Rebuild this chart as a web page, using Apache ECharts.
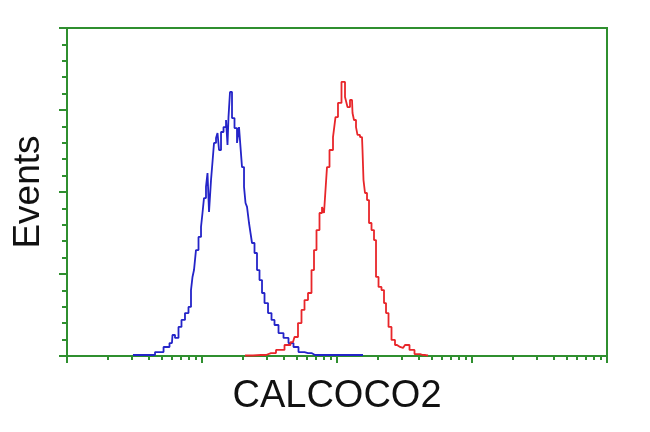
<!DOCTYPE html>
<html>
<head>
<meta charset="utf-8">
<script src="https://cdn.jsdelivr.net/npm/echarts@6/dist/echarts.min.js"></script>
<style>
html,body{margin:0;padding:0;background:#fff;}
#chart{width:650px;height:432px;}
</style>
</head>
<body>
<div id="chart"></div>
<script>
// Fluorescence intensity (log scale) and event counts
const xTitle = "CALCOCO2";
const yTitle = "Events";

const controlX = [3.08, 4.12, 4.89, 5.51, 5.99, 6.10, 6.53, 6.87, 7.23, 7.74, 8.15, 8.43, 8.58, 8.87, 9.18, 9.67, 10.0, 10.17, 10.52, 10.89, 11.08, 11.47, 11.86, 12.06, 12.49, 12.92, 13.14, 13.60, 14.07, 14.81, 15.32, 15.58, 15.85, 16.40, 16.97, 17.86, 18.48, 19.12, 19.45, 20.13, 20.83, 21.19, 21.92, 22.68, 23.07, 23.87, 25.12, 25.99, 27.36, 28.31, 29.80, 31.90, 33.57, 35.34, 38.48, 41.90, 45.63, 49.69, 54.12, 60.99, 68.71, 88.73, 114.6, 155.8];
const controlY = [0.6, 0.6, 2.4, 5.5, 7.9, 12.8, 11.0, 17.7, 22.0, 26.2, 29.9, 40.2, 48.2, 52.4, 64.6, 72.6, 78.7, 87.2, 96.3, 103.1, 111.6, 87.8, 107.3, 118.3, 129.9, 132.9, 136.0, 125.6, 136.6, 139.6, 143.9, 128.7, 145.7, 161.0, 145.1, 139.0, 129.9, 139.6, 127.4, 115.2, 103.1, 93.3, 90.9, 81.1, 75.0, 68.9, 62.8, 52.4, 46.3, 38.4, 32.3, 26.2, 22.0, 18.9, 14.0, 11.0, 7.9, 5.5, 2.4, 1.8, 0.6, 0.6, 0.6, 0.6];

const stainedX = [20.83, 27.36, 32.44, 38.48, 43.36, 47.22, 49.69, 53.19, 55.99, 58.94, 63.10, 66.41, 68.71, 72.32, 76.12, 78.76, 81.49, 82.89, 85.77, 90.29, 96.65, 98.31, 105.2, 110.8, 118.6, 120.6, 129.2, 131.4, 135.9, 140.7, 143.0, 153.2, 155.8, 158.5, 164.0, 169.7, 175.6, 184.8, 191.2, 197.9, 208.3, 219.1, 226.8, 234.7, 247.0, 259.9, 278.3, 292.9, 308.3, 330.0, 359.4, 391.4, 433.5, 472.2];
const stainedY = [0.3, 0.6, 1.8, 3.7, 6.7, 8.5, 11.6, 20.1, 28.1, 34.1, 38.4, 52.4, 64.6, 76.8, 87.2, 90.9, 87.2, 101.2, 115.2, 125.6, 133.5, 145.7, 154.3, 167.1, 157.9, 151.8, 156.1, 148.2, 143.9, 139.6, 134.8, 133.5, 125.6, 107.3, 99.4, 95.1, 81.1, 76.8, 70.7, 48.2, 42.1, 40.2, 32.3, 26.2, 17.7, 9.8, 6.7, 5.5, 4.9, 6.7, 3.7, 1.2, 0.6, 0.3];

const xMajorTicks = [1, 10, 100, 1000, 10000];
const xMinorTicks = [1,2,3,4,5,6,7,8,9,10,20,30,40,50,60,70,80,90,100,200,300,400,500,600,700,800,900,1000,2000,3000,4000,5000,6000,7000,8000,9000,10000];

const GREEN = '#2f8f2f';

function pairs(xs, ys) { return xs.map((x, i) => [x, ys[i]]); }

const chart = echarts.init(document.getElementById('chart'), null, {renderer: 'canvas'});
chart.setOption({
  animation: false,
  backgroundColor: '#ffffff',
  grid: {
    left: 67, right: 43, top: 28, bottom: 76,
    containLabel: false, outerBoundsMode: 'none',
    show: true, borderColor: GREEN, borderWidth: 2, backgroundColor: 'transparent'
  },
  xAxis: [
    {
      type: 'log', logBase: 10, min: 1, max: 10000, position: 'bottom',
      name: xTitle, nameLocation: 'middle', nameGap: 22,
      nameTextStyle: {fontFamily: 'Liberation Sans, Arial, sans-serif', fontSize: 38, color: '#111'},
      axisLine: {show: true, lineStyle: {color: GREEN, width: 2}},
      axisTick: {show: true, inside: false, length: 4, customValues: xMinorTicks, lineStyle: {color: GREEN, width: 2}},
      axisLabel: {show: false},
      splitLine: {show: false}
    },
    {
      type: 'log', logBase: 10, min: 1, max: 10000, position: 'bottom', gridIndex: 0,
      axisLine: {show: false},
      axisTick: {show: true, inside: false, length: 7, customValues: xMajorTicks, lineStyle: {color: GREEN, width: 2}},
      axisLabel: {show: false},
      splitLine: {show: false}
    }
  ],
  yAxis: {
    type: 'value', min: 0, max: 200, interval: 50,
    name: yTitle, nameLocation: 'middle', nameGap: 20, nameRotate: 90,
    nameTextStyle: {fontFamily: 'Liberation Sans, Arial, sans-serif', fontSize: 37, color: '#111'},
    axisLine: {show: true, lineStyle: {color: GREEN, width: 2}},
    axisTick: {show: true, inside: false, length: 8, lineStyle: {color: GREEN, width: 2}},
    minorTick: {show: true, splitNumber: 5, length: 5, lineStyle: {color: GREEN, width: 2}},
    axisLabel: {show: false},
    splitLine: {show: false},
    minorSplitLine: {show: false}
  },
  series: [
    {
      type: 'line', name: 'control', xAxisIndex: 0,
      data: pairs(controlX, controlY), step: 'middle', showSymbol: false, symbol: 'none',
      lineStyle: {color: '#2424c8', width: 1.8}, z: 3
    },
    {
      type: 'line', name: 'stained', xAxisIndex: 0,
      data: pairs(stainedX, stainedY), step: 'middle', showSymbol: false, symbol: 'none',
      lineStyle: {color: '#e8262a', width: 1.8}, z: 3
    }
  ]
});
</script>
</body>
</html>
